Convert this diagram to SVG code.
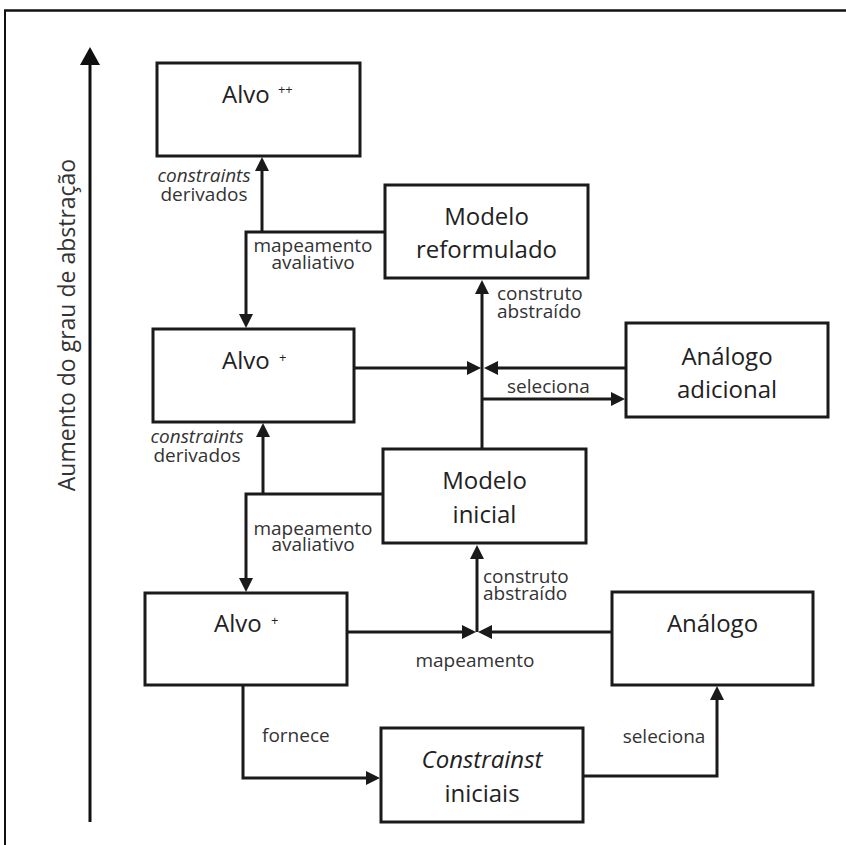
<svg xmlns="http://www.w3.org/2000/svg" width="846" height="845" viewBox="0 0 846 845">
<style>
.box{fill:#fff;stroke:#1a1a1a;stroke-width:3}
.t{font-family:"Open Sans","Liberation Sans",sans-serif;font-size:24px;fill:#222;text-anchor:middle}
.l{font-family:"Open Sans","Liberation Sans",sans-serif;font-size:19px;fill:#333}
.c{fill:none;stroke:#1a1a1a;stroke-width:3;marker-end:url(#ah)}
.m{text-anchor:middle}
.i{font-style:italic}
.sup{font-size:13px}
</style>
<defs>
<marker id="ah" markerUnits="userSpaceOnUse" markerWidth="14" markerHeight="14" viewBox="0 0 14 14" refX="8" refY="7" orient="auto">
<path d="M0,0 L14,7 L0,14 z" fill="#1a1a1a"/>
</marker>
<marker id="axh" markerUnits="userSpaceOnUse" markerWidth="18" markerHeight="20" viewBox="0 0 18 20" refX="10" refY="10" orient="auto">
<path d="M0,0 L18,10 L0,20 z" fill="#111"/>
</marker>
</defs>
<rect width="846" height="845" fill="#fff"/>
<g id="frame" stroke="#111" fill="none">
<line x1="4" y1="10.5" x2="846" y2="10.5" stroke-width="2.5"/>
<line x1="5" y1="10" x2="5" y2="845" stroke-width="2"/>
</g>
<g id="axis">
<line x1="90" y1="822" x2="90" y2="55" stroke="#111" stroke-width="3" marker-end="url(#axh)"/>
<text class="l" transform="translate(75,325) rotate(-90)" x="0" y="0" text-anchor="middle" style="font-size:23px">Aumento do grau de abstração</text>
</g>
<g id="connectors">
<path class="c" d="M262,232 V163"/>
<path class="c" d="M385,232 H246 V322"/>
<path class="c" d="M263,494 V429"/>
<path class="c" d="M383,494 H246 V586"/>
<path class="c" d="M354,368 H475"/>
<path class="c" d="M626,368 H490"/>
<path class="c" d="M482,449 V286"/>
<path class="c" d="M482,399 H619"/>
<path class="c" d="M347,632 H470"/>
<path class="c" d="M612,632 H484"/>
<path class="c" d="M477,632 V551"/>
<path class="c" d="M243,685 V778 H374"/>
<path class="c" d="M583,776 H717 V692"/>
<text class="l m" x="204" y="182"><tspan class="i">constraints</tspan></text>
<text class="l m" x="204" y="201">derivados</text>
<text class="l m" x="313" y="252">mapeamento</text>
<text class="l m" x="313" y="269">avaliativo</text>
<text class="l" x="497" y="300">construto</text>
<text class="l" x="497" y="318">abstraído</text>
<text class="l" x="507" y="393">seleciona</text>
<text class="l m" x="197" y="443"><tspan class="i">constraints</tspan></text>
<text class="l m" x="197" y="462">derivados</text>
<text class="l m" x="313" y="535">mapeamento</text>
<text class="l m" x="313" y="551">avaliativo</text>
<text class="l" x="483" y="583">construto</text>
<text class="l" x="483" y="600">abstraído</text>
<text class="l m" x="475" y="667">mapeamento</text>
<text class="l" x="262" y="742">fornece</text>
<text class="l m" x="664" y="743">seleciona</text>
</g>
<g id="alvo-pp">
<rect class="box" x="157" y="63" width="203" height="93"/>
<text class="t" x="222" y="103" style="text-anchor:start">Alvo <tspan class="sup" dx="2" dy="-9">++</tspan></text>
</g>
<g id="modelo-reformulado">
<rect class="box" x="385" y="185" width="203" height="93"/>
<text class="t" x="486.5" y="225">Modelo</text>
<text class="t" x="486.5" y="258">reformulado</text>
</g>
<g id="analogo-adicional">
<rect class="box" x="626" y="323" width="202" height="94"/>
<text class="t" x="727" y="365">Análogo</text>
<text class="t" x="727" y="398">adicional</text>
</g>
<g id="alvo-p-mid">
<rect class="box" x="153" y="329" width="201" height="93"/>
<text class="t" x="222" y="369" style="text-anchor:start">Alvo <tspan class="sup" dx="3" dy="-7">+</tspan></text>
</g>
<g id="modelo-inicial">
<rect class="box" x="383" y="449" width="203" height="94"/>
<text class="t" x="484.5" y="489">Modelo</text>
<text class="t" x="484.5" y="523">inicial</text>
</g>
<g id="alvo-p-low">
<rect class="box" x="145" y="593" width="202" height="92"/>
<text class="t" x="214" y="632" style="text-anchor:start">Alvo <tspan class="sup" dx="3" dy="-7">+</tspan></text>
</g>
<g id="analogo">
<rect class="box" x="612" y="592" width="201" height="93"/>
<text class="t" x="712.5" y="632">Análogo</text>
</g>
<g id="constrainst-iniciais">
<rect class="box" x="381" y="728" width="202" height="94"/>
<text class="t" x="482" y="768" font-style="italic">Constrainst</text>
<text class="t" x="482" y="802">iniciais</text>
</g>
</svg>
